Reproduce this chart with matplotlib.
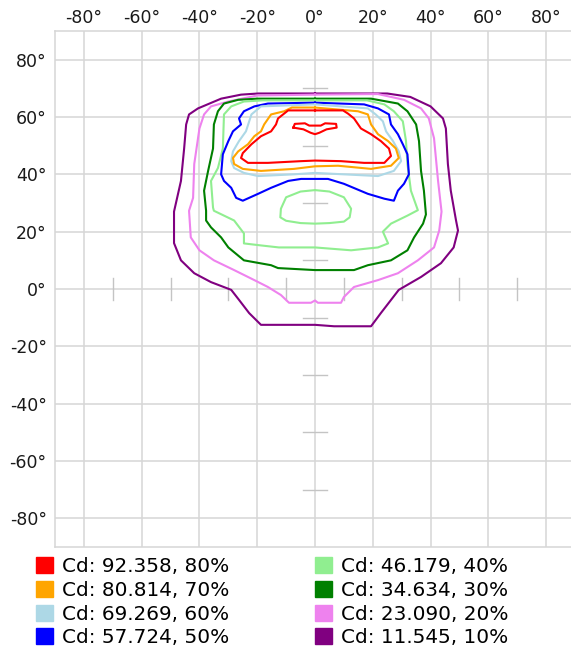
import matplotlib
matplotlib.use("Agg")
import matplotlib.pyplot as plt
from matplotlib.patches import Patch

# ---------------- data (degrees) ----------------
levels = ["Cd: 92.358, 80%", "Cd: 80.814, 70%", "Cd: 69.269, 60%", "Cd: 57.724, 50%",
          "Cd: 46.179, 40%", "Cd: 34.634, 30%", "Cd: 23.090, 20%", "Cd: 11.545, 10%"]
colors = ["red", "orange", "lightblue", "blue", "lightgreen", "green", "violet", "purple"]

ticks = [-80, -60, -40, -20, 0, 20, 40, 60, 80]
tick_labels = ["-80°", "-60°", "-40°", "-20°", "0°", "20°", "40°", "60°", "80°"]
center_marks = [-70, -50, -30, -10, 10, 30, 50, 70]

c10_x = [0, 25, 33, 40, 44.3, 45.3, 46, 47, 48.8, 49.5, 48, 43.6, 36.7, 29, 22.8, 19.4, 6.6, 0,
         -18.7, -22.8, -26.3, -29, -36, -41.8, -46.4, -48.8, -48.8, -46.4, -45.3, -44.6, -43.6,
         -40.5, -32.5, -25.6, -19.7, 0]
c10_y = [68.2, 68.2, 67, 63.7, 59.5, 56, 43.6, 34.3, 24, 20.4, 14.5, 9, 4.2, -0.3, -8.4, -13, -13, -12.5,
         -12.5, -8.4, -3.8, -0.3, 2.4, 5.5, 10, 16, 27, 37.7, 49, 57.4, 60.9,
         63, 66.4, 67.8, 68.2, 68.2]

c20_x = [0, 21.8, 30.8, 36.7, 39.4, 41.2, 42.6, 43.8, 43, 41.2, 35.6, 28.7, 21.8, 13.5, 10, 9, 1, 0,
         -1.4, -9, -11.8, -16.3, -21, -28, -35, -40, -43, -43.6, -42.2, -41.8, -40, -38.4, -36,
         -30, -20, 0]
c20_y = [67.8, 68, 66, 63, 59.5, 52.6, 37.7, 27, 20.4, 14.5, 10, 5.5, 3.1, 0.7, -2.8, -4.8, -4.8, -4.0,
         -4.8, -4.8, -2.1, 0.7, 3.1, 6.6, 10, 13.5, 18, 27.3, 31.8, 43.6, 56, 60.9, 63.7,
         65.4, 67.5, 67.8]

c30_x = [0, 19.4, 28.7, 32, 35, 36, 36.7, 37.7, 38.4, 37.4, 34.3, 32, 26.3, 18.3, 13.5, 0,
         -12.8, -15.2, -24.6, -30, -32.5, -36, -37.7, -37.7, -38.4, -37, -35.3, -35, -33.6,
         -31.5, -26.6, -20, 0]
c30_y = [66.4, 66.4, 64.7, 62, 57.4, 51.6, 41.2, 34.3, 26, 22.8, 18, 13.5, 10, 8.3, 6.6, 6.6,
         7.3, 8.3, 10, 14.5, 18, 21.5, 23.9, 27.3, 34.3, 41.2, 49, 57.4, 62,
         64.7, 66, 66.4, 66.4]

c40_x = [0, 18, 24, 27.3, 30.4, 31.5, 32, 33.2, 35.6, 32, 26.3, 23.5, 25.3, 21.8, 12.5, 0,
         -12.5, -18.7, -24.6, -24.6, -28, -35, -35.3, -36, -33.6, -31.9, -31.5, -29, -24.6, -18, 0]
c40_y = [65.8, 65.8, 64.4, 62, 58.5, 51.6, 43.6, 34.3, 27.5, 25.6, 22.8, 20, 15.9, 14.5, 13.5, 14.5,
         14.5, 15.2, 15.9, 19.4, 23.9, 27.3, 28.4, 37.7, 42.2, 49, 60.9, 63.7, 65.4, 65.8, 65.8]

c40b_x = [0, 5, 10, 12.5, 12, 10, 5, 0, -5, -10, -12, -11.8, -10, -5, 0]
c40b_y = [34.5, 34, 32, 28, 25, 23.5, 23, 22.8, 23, 23.8, 25, 28, 32, 34, 34.5]

c50_x = [0, 17, 21.8, 25.6, 26.3, 28.7, 30.4, 32, 32.5, 30.8, 28.7, 27.3, 24, 18.3, 10, 4.5, 0,
         -4.8, -9.3, -15.2, -19.7, -25, -27.3, -29, -31.5, -32.5, -31.9, -30, -28.4, -25.6,
         -26.3, -24.6, -21, -16.3, 0]
c50_y = [65, 64.4, 63, 60.9, 57.4, 54, 50.5, 47, 40, 36.7, 34.3, 30.8, 31.5, 33.2, 36.7, 38.4, 38.4,
         38.4, 37.7, 35.3, 33.2, 30.8, 31.8, 35.3, 37.7, 40, 47, 51.6, 55, 57.4,
         59.5, 62, 63.7, 64.7, 65]

c60_x = [0, 18.3, 21, 23.5, 24.6, 27, 29, 29.8, 27.3, 21.8, 10, 0, -7.3, -19.7, -24.6, -28, -29,
         -28.4, -26.3, -23.9, -22, -18.7, 0]
c60_y = [64.4, 63, 60.9, 58.5, 55, 51.6, 48, 44.6, 41.2, 39.4, 40, 40.5, 40, 39.4, 40.5, 42.2, 44.6,
         48, 51.6, 55, 60.9, 63.7, 64.4]

c70_x = [0, 14.9, 18.3, 19.4, 21.8, 25.3, 28, 29, 26.3, 19.4, 8, 0, -7.3, -18.7, -25, -28, -28.4,
         -26.6, -23.2, -21, -18.7, -17.6, -15.2, -10.7, -8, 0]
c70_y = [63.3, 62, 60.9, 57.4, 54, 51.6, 49, 45.7, 43, 41.9, 43, 42.8, 41.9, 41.2, 41.9, 43.6, 45.7,
         48, 50.5, 53.3, 55, 57.4, 60.9, 62, 63.3, 63.3]

c80_x = [0, 9.7, 11.4, 13.5, 15.9, 19.4, 22.8, 25.6, 26.3, 24, 17, 9, 0, -4.8, -16.3, -23.2, -25.6,
         -25, -22, -18.7, -15.2, -13.5, -12.8, -9.3, 0]
c80_y = [62.3, 62.3, 61.2, 59.5, 56, 54, 51.6, 49, 46.4, 44, 44, 44.6, 44.8, 44.6, 44, 44, 45.7,
         47.4, 50.5, 53.3, 55, 57.4, 59.5, 62.3, 62.3]

c80b_x = [-7.5, -7, -3.5, -2, 2, 3.5, 7.3, 7.5, 4, 1.5, 0, -1.5, -4, -7.5]
c80b_y = [56.3, 57.6, 57.8, 57, 57, 57.8, 57.6, 56.3, 55.7, 54.5, 54, 54.5, 55.7, 56.3]

contours = [
    [(c80_x, c80_y), (c80b_x, c80b_y)],
    [(c70_x, c70_y)],
    [(c60_x, c60_y)],
    [(c50_x, c50_y)],
    [(c40_x, c40_y), (c40b_x, c40b_y)],
    [(c30_x, c30_y)],
    [(c20_x, c20_y)],
    [(c10_x, c10_y)],
]

# ---------------- figure ----------------
W, H = 571, 652
fig = plt.figure(figsize=(W / 100, H / 100), dpi=100)
ax = fig.add_axes([55 / W, 1 - 547 / H, 520 / W, 516 / H])
ax.set_xlim(-90, 90)
ax.set_ylim(-90, 90)

grid_c = "#d6d6d6"
ax.set_xticks(ticks)
ax.set_xticklabels(tick_labels)
ax.set_yticks(ticks)
ax.set_yticklabels(tick_labels)
ax.xaxis.tick_top()
ax.tick_params(axis="both", length=0, labelsize=12.5, labelcolor="#1a1a1a")
ax.tick_params(axis="x", pad=3)
ax.tick_params(axis="y", pad=6)
ax.grid(True, color=grid_c, linewidth=1.1)
ax.set_axisbelow(True)
for s in ax.spines.values():
    s.set_color(grid_c)
    s.set_linewidth(1.1)

# centre cross marks
for m in center_marks:
    ax.plot([-4, 4], [m, m], color="#c4c4c4", lw=1.0, zorder=1)
    ax.plot([m, m], [-4, 4], color="#c4c4c4", lw=1.0, zorder=1)

# contour lines
for parts, col in zip(contours[::-1], colors[::-1]):
    for xs, ys in parts:
        ax.plot(xs, ys, color=col, lw=1.5, solid_joinstyle="round", zorder=3)

handles = [Patch(facecolor=c, edgecolor=c) for c in colors]
fig.legend(handles, levels, ncol=2, loc="upper left",
           bbox_to_anchor=(36 / W, 1 - 557 / H), frameon=False,
           fontsize=14.4, handlelength=0.85, handleheight=0.85, handletextpad=0.45,
           labelspacing=0.24, columnspacing=4.3, borderpad=0, borderaxespad=0)

fig.savefig("out.png", dpi=100)
